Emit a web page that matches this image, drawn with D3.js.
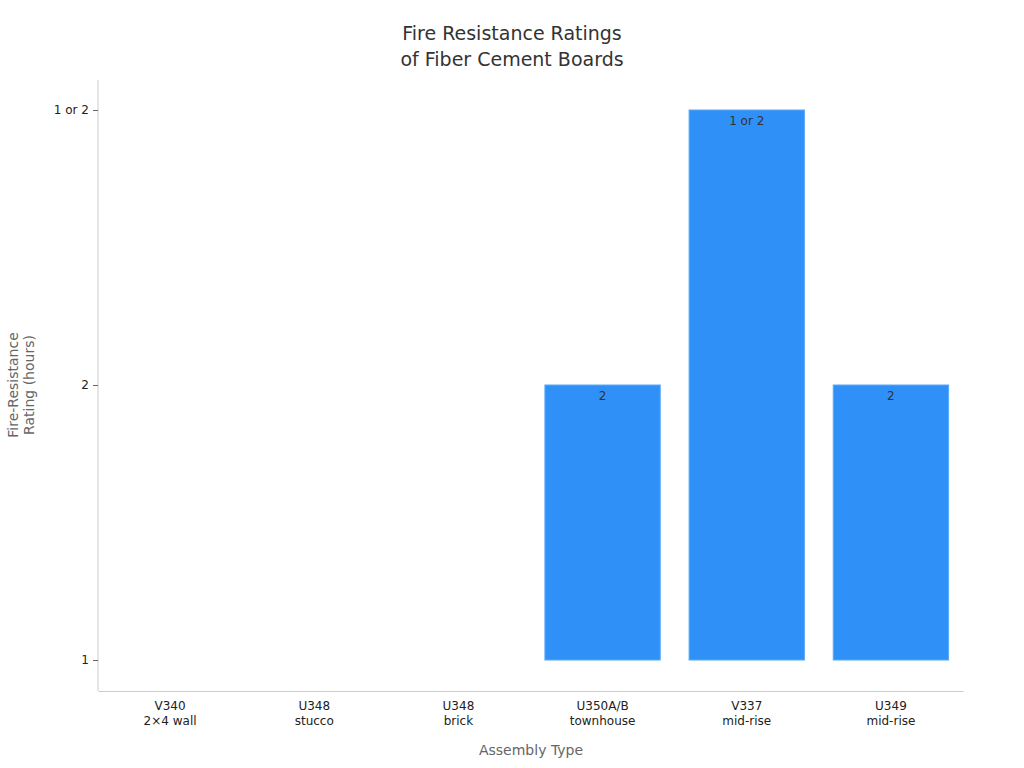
<!DOCTYPE html>
<html>
<head>
<meta charset="utf-8">
<script src="https://cdn.jsdelivr.net/npm/d3@7"></script>
<style>
  body { margin: 0; background: #fff; font-family: "DejaVu Sans", sans-serif; }
</style>
</head>
<body>
<svg width="1024" height="768"></svg>
<script>
const categories = [ 'V340\n2×4 wall', 'U348\nstucco', 'U348\nbrick', 'U350A/B\ntownhouse', 'V337\nmid-rise', 'U349\nmid-rise' ];
const ratings = [ '1', '1', '1', '2', '1 or 2', '2' ];
const ratingLevels = [ '1', '2', '1 or 2' ];

const margin = { top: 80, right: 61, bottom: 77, left: 98 };
const width = 1024, height = 768;

const svg = d3.select( 'svg' );

const x = d3.scaleBand()
  .domain( categories )
  .range( [ margin.left, width - margin.right ] )
  .paddingInner( 0.2 )
  .paddingOuter( 0.1 );

const y = d3.scalePoint()
  .domain( ratingLevels )
  .range( [ 660, 110 ] );

// bars grow up from the lowest level
svg.selectAll( '.bar' )
  .data( categories )
  .enter().append( 'rect' )
  .attr( 'x', d => x( d ) )
  .attr( 'y', ( d, i ) => y( ratings[ i ] ) )
  .attr( 'width', x.bandwidth() )
  .attr( 'height', ( d, i ) => y( '1' ) - y( ratings[ i ] ) )
  .attr( 'fill', '#2f91f7' )
  .attr( 'stroke', '#5aa9f8' )
  .attr( 'stroke-width', 1 )
  .style( 'display', ( d, i ) => ratings[ i ] === '1' ? 'none' : null );

svg.selectAll( '.lbl' )
  .data( categories.filter( ( d, i ) => ratings[ i ] !== '1' ) )
  .enter().append( 'text' )
  .attr( 'x', d => x( d ) + x.bandwidth() / 2 )
  .attr( 'y', d => y( ratings[ categories.indexOf( d ) ] ) + 15 )
  .attr( 'text-anchor', 'middle' )
  .attr( 'font-size', 12 )
  .attr( 'fill', '#333' )
  .text( d => ratings[ categories.indexOf( d ) ] );

// x axis
const xAxis = svg.append( 'g' )
  .attr( 'transform', 'translate(0,' + ( height - margin.bottom ) + ')' )
  .call( d3.axisBottom( x ).tickSize( 0 ).tickPadding( 10 ) );
xAxis.select( '.domain' ).attr( 'stroke', '#ccc' );
xAxis.selectAll( 'text' ).each( function( d ) {
  const t = d3.select( this ).text( null ).attr( 'font-size', 12 ).attr( 'fill', '#222' )
    .attr( 'font-family', '"DejaVu Sans", sans-serif' );
  d.split( '\n' ).forEach( ( s, k ) => {
    t.append( 'tspan' ).attr( 'x', 0 ).attr( 'dy', k === 0 ? '0.71em' : '1.25em' ).text( s );
  } );
} );

// y axis
const yAxis = svg.append( 'g' )
  .attr( 'transform', 'translate(' + margin.left + ',0)' )
  .call( d3.axisLeft( y ).tickSize( 5 ).tickPadding( 4 ) );
yAxis.select( '.domain' ).attr( 'd', 'M0,' + margin.top + 'V' + ( height - margin.bottom ) ).attr( 'stroke', '#ccc' );
yAxis.selectAll( '.tick line' ).attr( 'stroke', '#666' );
yAxis.selectAll( 'text' ).attr( 'font-size', 12 ).attr( 'fill', '#222' )
  .attr( 'font-family', '"DejaVu Sans", sans-serif' );

// titles
svg.append( 'text' ).attr( 'x', 512 ).attr( 'y', 40 ).attr( 'text-anchor', 'middle' )
  .attr( 'font-size', 19 ).attr( 'fill', '#333' ).text( 'Fire Resistance Ratings' );
svg.append( 'text' ).attr( 'x', 512 ).attr( 'y', 66 ).attr( 'text-anchor', 'middle' )
  .attr( 'font-size', 19 ).attr( 'fill', '#333' ).text( 'of Fiber Cement Boards' );

svg.append( 'text' ).attr( 'x', 531 ).attr( 'y', 755 ).attr( 'text-anchor', 'middle' )
  .attr( 'font-size', 14 ).attr( 'fill', '#666' ).text( 'Assembly Type' );

const yl = svg.append( 'text' ).attr( 'transform', 'translate(18,385) rotate(-90)' )
  .attr( 'text-anchor', 'middle' ).attr( 'font-size', 14 ).attr( 'fill', '#666' );
yl.append( 'tspan' ).attr( 'x', 0 ).attr( 'dy', 0 ).text( 'Fire-Resistance' );
yl.append( 'tspan' ).attr( 'x', 0 ).attr( 'dy', '1.15em' ).text( 'Rating (hours)' );
</script>
</body>
</html>
